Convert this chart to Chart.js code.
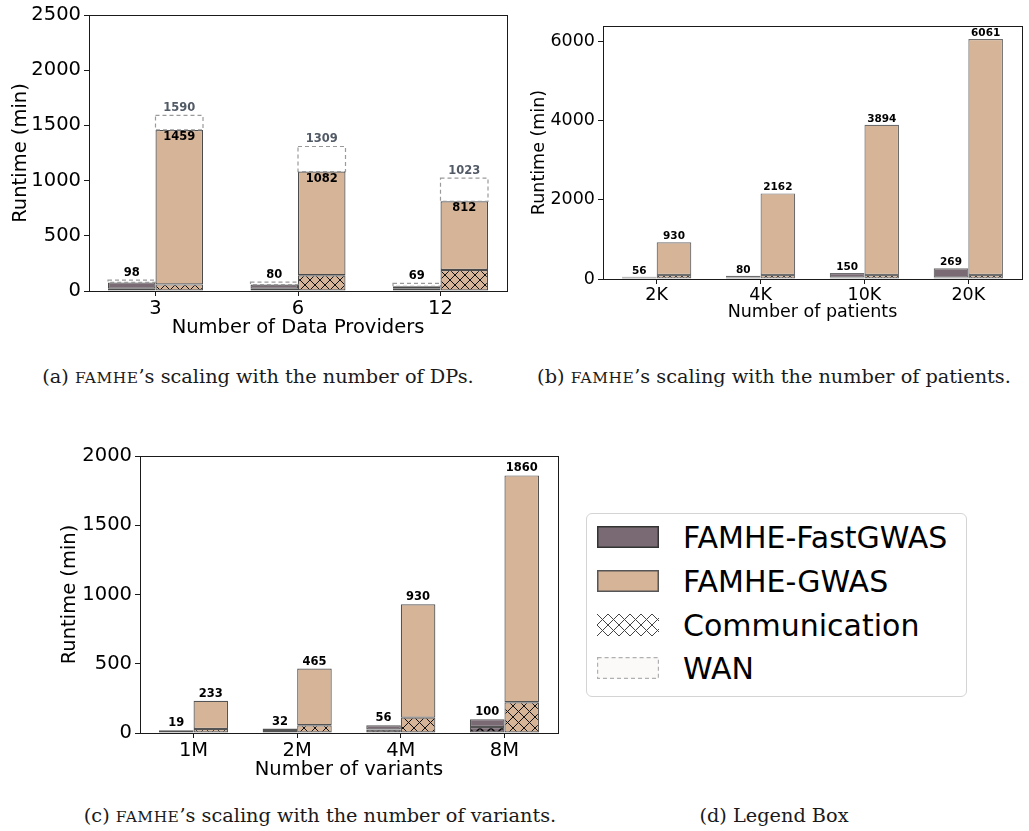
<!DOCTYPE html>
<html>
<head>
<meta charset="utf-8">
<script src="https://cdn.jsdelivr.net/npm/chart.js@4.4.1/dist/chart.umd.min.js"></script>
<style>
  html, body { margin: 0; padding: 0; background: #fff; }
  body { width: 1029px; height: 831px; position: relative; overflow: hidden; }
  canvas.panel { position: absolute; }
  .cap { position: absolute; font-family: 'DejaVu Serif', serif; font-size: 19.3px;
         color: #1a1a1a; white-space: nowrap; transform: translate(-50%, -50%); }
  .sc { font-size: 0.8em; letter-spacing: 0.5px; }
  #legendBox { position: absolute; left: 586px; top: 513px; width: 381px; height: 184px;
               border: 1px solid #d4d4d4; border-radius: 6px; box-sizing: border-box; }
  .lg-sw { position: absolute; }
  .lg-tx { position: absolute; font-family: 'DejaVu Sans', sans-serif; font-size: 30px; color: #000;
           white-space: nowrap; transform: translateY(-50%); }
</style>
</head>
<body>
<canvas id="chartDP" class="panel" width="520" height="340" style="left:0;top:0"></canvas>
<canvas id="chartPT" class="panel" width="509" height="340" style="left:520px;top:0"></canvas>
<canvas id="chartVA" class="panel" width="540" height="362" style="left:40px;top:420px"></canvas>

<div class="cap" style="left:258px;top:376px">(a) <span class="sc">FAMHE</span>’s scaling with the number of DPs.</div>
<div class="cap" style="left:774px;top:376px">(b) <span class="sc">FAMHE</span>’s scaling with the number of patients.</div>
<div class="cap" style="left:320px;top:815px">(c) <span class="sc">FAMHE</span>’s scaling with the number of variants.</div>
<div class="cap" style="left:774px;top:815px">(d) Legend Box</div>

<div id="legendBox"></div>
<canvas id="sw0" class="lg-sw" width="62" height="22" style="left:597px;top:526px"></canvas>
<canvas id="sw1" class="lg-sw" width="62" height="22" style="left:597px;top:570px"></canvas>
<canvas id="sw2" class="lg-sw" width="62" height="22" style="left:597px;top:614px"></canvas>
<canvas id="sw3" class="lg-sw" width="62" height="22" style="left:597px;top:657px"></canvas>
<div class="lg-tx" style="left:683px;top:537px">FAMHE-FastGWAS</div>
<div class="lg-tx" style="left:683px;top:581px">FAMHE-GWAS</div>
<div class="lg-tx" style="left:683px;top:625px">Communication</div>
<div class="lg-tx" style="left:683px;top:668px">WAN</div>

<script>
// ---- (a) scaling with the number of data providers ----
const dpLabels   = ['3', '6', '12'];
const dpFastComm = [20, 20, 20];
const dpFastLan  = [78, 58, 42];
const dpFastWan  = [98, 80, 69];
const dpGwasComm = [60, 142, 190];
const dpGwasLan  = [1459, 1082, 812];
const dpGwasWan  = [1590, 1309, 1023];
const dpTicks    = [0, 500, 1000, 1500, 2000, 2500];

// ---- (b) scaling with the number of patients ----
const ptLabels   = ['2K', '4K', '10K', '20K'];
const ptFastComm = [40, 40, 40, 40];
const ptFast     = [56, 80, 150, 269];
const ptGwasComm = [100, 100, 100, 100];
const ptGwas     = [930, 2162, 3894, 6061];
const ptTicks    = [0, 2000, 4000, 6000];

// ---- (c) scaling with the number of variants ----
const vaLabels   = ['1M', '2M', '4M', '8M'];
const vaFastComm = [8, 14, 25, 43];
const vaFast     = [19, 32, 56, 100];
const vaGwasComm = [29, 56, 111, 222];
const vaGwas     = [233, 465, 930, 1860];
const vaTicks    = [0, 500, 1000, 1500, 2000];

const MAUVE = '#796a73';
const TAN = '#d6b498';
const WAN_EDGE = '#9a9a9a';
const WAN_TEXT = '#525a66';

function hatch(bg, ink, size, lw) {
  const c = document.createElement('canvas');
  c.width = c.height = size;
  const g = c.getContext('2d');
  if (bg) { g.fillStyle = bg; g.fillRect(0, 0, size, size); }
  g.strokeStyle = ink;
  g.lineWidth = lw;
  g.beginPath();
  for (const o of [-size, 0, size]) {
    g.moveTo(o, 0); g.lineTo(o + size, size);
    g.moveTo(o, size); g.lineTo(o + size, 0);
  }
  g.stroke();
  return g.createPattern(c, 'repeat');
}

const xy = arr => arr.map((v, i) => ({ x: i, y: v }));
const diff = (a, b) => a.map((v, i) => v - b[i]);

// dashed WAN boxes, value tags and the frame around the plot area
const decorations = {
  id: 'decorations',
  afterDatasetsDraw(chart, args, opts) {
    const ctx = chart.ctx;
    const a = chart.chartArea;
    ctx.save();
    chart.data.datasets.forEach((ds, di) => {
      if (!ds.wan) return;
      chart.getDatasetMeta(di).data.forEach(el => {
        const p = el.getProps(['x', 'y', 'base', 'width'], true);
        ctx.setLineDash([4, 3]);
        ctx.strokeStyle = WAN_EDGE;
        ctx.lineWidth = 1.2;
        ctx.strokeRect(p.x - p.width / 2, p.y, p.width, p.base - p.y);
      });
    });
    ctx.setLineDash([]);
    ctx.strokeStyle = '#1a1a1a';
    ctx.lineWidth = 1;
    ctx.strokeRect(Math.round(a.left) + 0.5, Math.round(a.top) + 0.5,
                   Math.round(a.right - a.left), Math.round(a.bottom - a.top));
    ctx.textAlign = 'center';
    ctx.textBaseline = 'middle';
    ctx.font = 'bold ' + opts.size + 'px "DejaVu Sans"';
    (opts.tags || []).forEach(t => {
      chart.getDatasetMeta(t.ds).data.forEach((el, i) => {
        const p = el.getProps(['x', 'y'], true);
        ctx.fillStyle = t.color || '#000';
        const y = t.inside ? p.y + opts.gap : p.y - opts.gap;
        ctx.fillText(String(t.values[i]), p.x, y);
      });
    });
    ctx.restore();
  }
};

function buildChart(id, p) {
  const n = p.labels.length;
  const pad = 1 / 3 + (n - 1 + 2 / 3) * 0.05;
  const edge = p.edge;
  const bar = (stack, data, bg, extra) => Object.assign({
    stack, data: xy(data), backgroundColor: bg, borderColor: edge, borderWidth: p.edgeWidth,
    borderSkipped: false, categoryPercentage: 2 / 3, barPercentage: 1
  }, extra || {});
  const datasets = [
    bar('fast', p.fastComm, hatch(MAUVE, '#000', p.hatch, p.fastInk)),
    bar('fast', diff(p.fastLan, p.fastComm), MAUVE)
  ];
  if (p.fastWan) datasets.push(bar('fast', diff(p.fastWan, p.fastLan), 'rgba(255,255,255,0)', { borderWidth: 0, wan: true }));
  datasets.push(bar('gwas', p.gwasComm, hatch(TAN, '#111', p.hatch, 1)));
  datasets.push(bar('gwas', diff(p.gwasLan, p.gwasComm), TAN));
  if (p.gwasWan) datasets.push(bar('gwas', diff(p.gwasWan, p.gwasLan), 'rgba(255,255,255,0)', { borderWidth: 0, wan: true }));

  const font = { family: 'DejaVu Sans', size: p.fs };
  return new Chart(document.getElementById(id), {
    type: 'bar',
    data: { datasets },
    options: {
      responsive: false,
      animation: false,
      events: [],
      layout: { padding: p.padding },
      plugins: { legend: { display: false }, tooltip: { enabled: false },
                 decorations: { tags: p.tags(datasets), size: p.tagSize, gap: p.gap } },
      scales: {
        x: {
          type: 'linear', min: -pad, max: n - 1 + pad, offset: false,
          afterBuildTicks: s => { s.ticks = p.labels.map((_, i) => ({ value: i })); },
          afterFit: s => { s.height = p.xh; },
          grid: { drawOnChartArea: false, drawTicks: true, tickLength: 5, color: '#1a1a1a', offset: false },
          border: { display: false },
          ticks: { callback: v => p.labels[v], font, color: '#000', padding: 1, maxRotation: 0, autoSkip: false },
          title: { display: true, text: p.xTitle, font, color: '#000', padding: 0 }
        },
        y: {
          stacked: true, min: 0, max: p.ymax,
          afterBuildTicks: s => { s.ticks = p.yTicks.map(v => ({ value: v })); },
          afterFit: s => { s.width = p.yw; },
          grid: { drawOnChartArea: false, drawTicks: true, tickLength: 5, color: '#1a1a1a' },
          border: { display: false },
          ticks: { font, color: '#000', padding: 3, callback: v => String(v) },
          title: { display: true, text: 'Runtime (min)', font, color: '#000', padding: { top: p.yTitlePad, bottom: 0 } }
        }
      }
    },
    plugins: [decorations]
  });
}

buildChart('chartDP', {
  labels: dpLabels, fastComm: dpFastComm, fastLan: dpFastLan, fastWan: dpFastWan,
  gwasComm: dpGwasComm, gwasLan: dpGwasLan, gwasWan: dpGwasWan,
  yTicks: dpTicks, ymax: 2500, xTitle: 'Number of Data Providers',
  fs: 19.5, tagSize: 11.5, gap: 7, hatch: 10, fastInk: 1.4, edge: 'rgba(30,30,30,0.8)', edgeWidth: 1.2,
  padding: { left: 0, top: 15, right: 13, bottom: 0 }, yw: 89, xh: 49, yTitlePad: 9,
  tags: ds => [
    { ds: 2, values: dpFastWan },
    { ds: 4, values: dpGwasLan, inside: true },
    { ds: 5, values: dpGwasWan, color: WAN_TEXT }
  ]
});

buildChart('chartPT', {
  labels: ptLabels, fastComm: ptFastComm, fastLan: ptFast,
  gwasComm: ptGwasComm, gwasLan: ptGwas,
  yTicks: ptTicks, ymax: 6390, xTitle: 'Number of patients',
  fs: 17.5, tagSize: 10.5, gap: 6, hatch: 6, fastInk: 2, edge: 'rgba(60,60,60,0.75)', edgeWidth: 1.2,
  padding: { left: 0, top: 26, right: 7, bottom: 17 }, yw: 83, xh: 44, yTitlePad: 9,
  tags: ds => [
    { ds: 1, values: ptFast },
    { ds: 3, values: ptGwas }
  ]
});

buildChart('chartVA', {
  labels: vaLabels, fastComm: vaFastComm, fastLan: vaFast,
  gwasComm: vaGwasComm, gwasLan: vaGwas,
  yTicks: vaTicks, ymax: 2000, xTitle: 'Number of variants',
  fs: 19.5, tagSize: 11.5, gap: 7, hatch: 11, fastInk: 1.4, edge: 'rgba(40,40,40,0.8)', edgeWidth: 1.2,
  padding: { left: 0, top: 36, right: 22, bottom: 0 }, yw: 100, xh: 49, yTitlePad: 18,
  tags: ds => [
    { ds: 1, values: vaFast },
    { ds: 3, values: vaGwas }
  ]
});

// legend swatches
(function () {
  const sw = id => { const c = document.getElementById(id); return [c.getContext('2d'), c.width, c.height]; };
  let [g, w, h] = sw('sw0');
  g.fillStyle = MAUVE; g.fillRect(0, 0, w, h);
  g.strokeStyle = '#333'; g.lineWidth = 1.5; g.strokeRect(0.75, 0.75, w - 1.5, h - 1.5);
  [g, w, h] = sw('sw1');
  g.fillStyle = TAN; g.fillRect(0, 0, w, h);
  g.strokeStyle = '#555'; g.lineWidth = 1.5; g.strokeRect(0.75, 0.75, w - 1.5, h - 1.5);
  [g, w, h] = sw('sw2');
  g.fillStyle = hatch('#fff', '#444', 11, 1); g.fillRect(0, 0, w, h);
  [g, w, h] = sw('sw3');
  g.fillStyle = '#fcf9f9'; g.fillRect(0, 0, w, h);
  g.setLineDash([4, 3]); g.strokeStyle = '#b0b0b0'; g.lineWidth = 1.2; g.strokeRect(0.6, 0.6, w - 1.2, h - 1.2);
})();
</script>
</body>
</html>
